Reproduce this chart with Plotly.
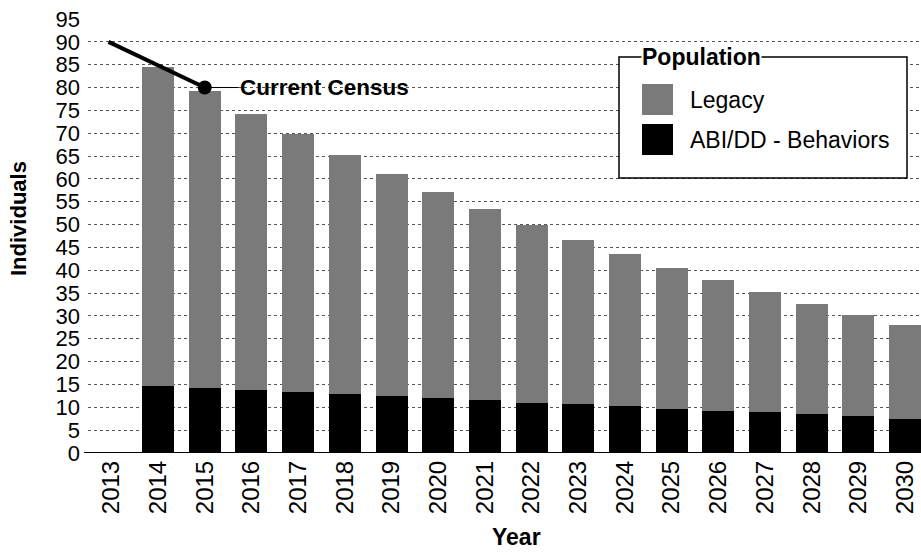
import plotly.graph_objects as go

# Projected population by year
years = [str(y) for y in range(2013, 2031)]
abi_dd = [None, 14.7, 14.2, 13.7, 13.4, 12.9, 12.5, 12.0, 11.5, 11.0,
          10.7, 10.3, 9.7, 9.3, 8.9, 8.5, 8.0, 7.5]
totals = [None, 84.5, 79.2, 74.3, 69.8, 65.2, 61.0, 57.1, 53.4, 50.0,
          46.7, 43.5, 40.5, 37.8, 35.2, 32.6, 30.3, 28.0]
legacy = [None if t is None else round(t - a, 1) for t, a in zip(totals, abi_dd)]

y_ticks = list(range(0, 96, 5))

# Current census callout
census_year = "2015"
census_value = 80
callout_start = 90

FONT = "Liberation Sans, Arial, sans-serif"
GRAY = "#7a7a7a"
BLACK = "#000000"

# Pixel geometry of the plotting area
W, H = 921, 555
L, R, T, B = 88, 0, 19, 102
plot_w = W - L - R
plot_h = H - T - B


def px(x):
    return (x - L) / plot_w


def py(y):
    return (H - B - y) / plot_h


fig = go.Figure()
fig.add_trace(go.Bar(x=years, y=abi_dd, name="ABI/DD - Behaviors",
                     marker=dict(color=BLACK, line=dict(width=0))))
fig.add_trace(go.Bar(x=years, y=legacy, name="Legacy",
                     marker=dict(color=GRAY, line=dict(width=0))))

census_idx = years.index(census_year)
fig.add_trace(go.Scatter(x=[census_year], y=[census_value], mode="markers",
                         marker=dict(color=BLACK, size=14),
                         showlegend=False, hoverinfo="skip"))

shapes = [
    # thick callout line
    dict(type="line", xref="x", yref="y", x0=-0.06, y0=callout_start,
         x1=census_idx, y1=census_value, line=dict(color=BLACK, width=4),
         layer="above"),
    # thin leader to label
    dict(type="line", xref="x", yref="y", x0=census_idx, y0=census_value,
         x1=census_idx + 0.72, y1=census_value,
         line=dict(color=BLACK, width=1), layer="above"),
    # baseline, running slightly past the left edge
    dict(type="line", xref="paper", yref="y", x0=px(84), x1=1, y0=0, y1=0,
         line=dict(color=BLACK, width=2), layer="above"),
    # legend frame
    dict(type="rect", xref="paper", yref="paper", x0=px(619), x1=px(907),
         y0=py(178), y1=py(57), line=dict(color=BLACK, width=1.5),
         fillcolor="white", layer="above"),
    # legend swatches
    dict(type="rect", xref="paper", yref="paper", x0=px(642), x1=px(673),
         y0=py(115), y1=py(84), line=dict(width=0), fillcolor=GRAY,
         layer="above"),
    dict(type="rect", xref="paper", yref="paper", x0=px(642), x1=px(673),
         y0=py(155), y1=py(124), line=dict(width=0), fillcolor=BLACK,
         layer="above"),
]

annotations = [
    dict(text="<b>Current Census</b>", xref="x", yref="y",
         x=census_idx + 0.72, y=census_value, xanchor="left", yanchor="middle",
         showarrow=False, font=dict(size=22.5, color=BLACK, family=FONT)),
    dict(text="<b>Population</b>", xref="paper", yref="paper",
         x=px(641), y=py(57), xanchor="left", yanchor="middle",
         showarrow=False, bgcolor="white", borderpad=0,
         font=dict(size=23, color=BLACK, family=FONT)),
    dict(text="Legacy", xref="paper", yref="paper", x=px(688), y=py(100),
         xanchor="left", yanchor="middle", showarrow=False,
         font=dict(size=23, color=BLACK, family=FONT)),
    dict(text="ABI/DD - Behaviors", xref="paper", yref="paper", x=px(688),
         y=py(140), xanchor="left", yanchor="middle", showarrow=False,
         font=dict(size=23, color=BLACK, family=FONT)),
    dict(text="<b>Individuals</b>", xref="paper", yref="paper", x=px(18),
         y=py(219), xanchor="center", yanchor="middle", textangle=-90,
         showarrow=False, font=dict(size=22, color=BLACK, family=FONT)),
    dict(text="<b>Year</b>", xref="paper", yref="paper", x=px(516),
         y=py(537), xanchor="center", yanchor="middle", showarrow=False,
         font=dict(size=23, color=BLACK, family=FONT)),
]

fig.update_layout(
    width=W, height=H,
    margin=dict(l=L, r=R, t=T, b=B, pad=0),
    barmode="stack", bargap=0.315,
    plot_bgcolor="white", paper_bgcolor="white",
    showlegend=False,
    font=dict(family=FONT, size=22, color=BLACK),
    shapes=shapes, annotations=annotations,
    xaxis=dict(type="category", categoryorder="array", categoryarray=years,
               range=[-0.5, 17.34], tickangle=-90, showgrid=False,
               showline=False, ticks="", ticklabelstandoff=2,
               tickfont=dict(size=24, family=FONT, color=BLACK)),
    yaxis=dict(range=[0, 95], tickvals=y_ticks, showgrid=True,
               gridcolor="#555555", griddash="dot", gridwidth=1,
               zeroline=False, showline=False, ticks="",
               ticklabelstandoff=7,
               tickfont=dict(size=22, family=FONT, color=BLACK)),
)

fig.write_html("out.html")
